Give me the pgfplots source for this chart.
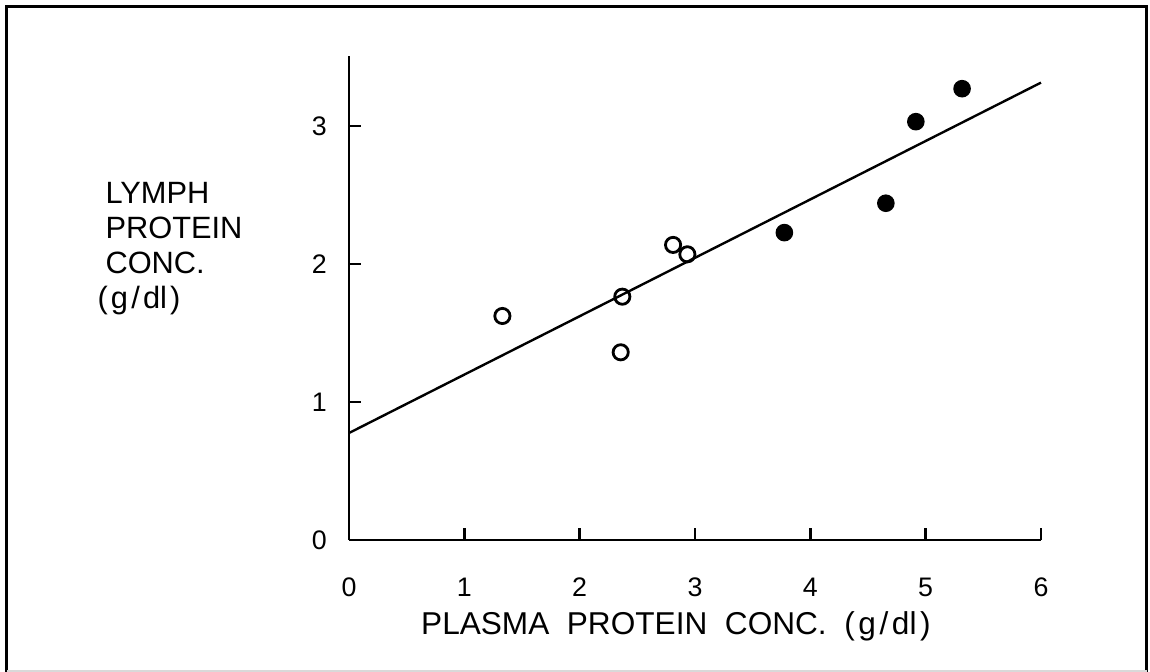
\documentclass[border=0pt]{standalone}
\usepackage{pgfplots}
\pgfplotsset{compat=1.18}
\usepackage{fontspec}
\setmainfont{Liberation Sans}

\begin{document}
\begin{tikzpicture}
  % picture size: 1 px of the reference = 0.25pt, axis origin at (0,0)
  \useasboundingbox (-87.25pt,-33pt) rectangle (200.25pt,135pt);
  \draw[line width=0.75pt] (-85.5pt,-34pt) -- (-85.5pt,133.25pt)
    -- (199.5pt,133.25pt) -- (199.5pt,-34pt);
  \draw[line width=0.5pt, black!15] (-85.5pt,-32.7pt) -- (199.5pt,-32.7pt);

  \begin{axis}[
    at={(0,0)}, anchor=south west,
    scale only axis,
    width=173pt, height=121pt,
    xmin=0, xmax=6,
    ymin=0, ymax=3.507,
    axis lines*=left,
    axis line style={-, line width=0.65pt},
    xtick={0,1,2,3,4,5,6},
    ytick={0,1,2,3},
    tick align=inside,
    major tick length=3pt,
    tick style={line width=0.65pt, black},
    /pgf/number format/assume math mode=true,
    ticklabel style={font=\fontsize{6.7}{8}\selectfont},
    xticklabel style={anchor=center, yshift=-11.75pt},
    yticklabel style={anchor=east, xshift=-2pt},
    xlabel={PLASMA\ \ PROTEIN\ \ CONC.\ \ (\kern0.9pt g\kern0.9pt/\kern0.9pt dl\kern0.9pt)},
    xlabel style={font=\fontsize{7.9}{9}\selectfont, anchor=base, inner sep=0pt,
      at={(axis description cs:0.4725,-0.196)}},
    ylabel={LYMPH\\PROTEIN\\CONC.\\\hspace*{-2pt}(\kern0.8pt g\kern0.8pt/\kern0.8pt dl\kern0.8pt)},
    ylabel style={rotate=-90, font=\fontsize{7.7}{8.75}\selectfont, align=left,
      anchor=north west, inner sep=0pt,
      at={(axis description cs:-0.353,0.74)}},
    clip=false,
  ]
    % regression line
    \addplot[black, line width=0.6pt] coordinates {(0,0.775) (6,3.314)};
    % open circles
    \addplot[only marks, mark=o, mark size=1.9pt, line width=0.7pt, black] coordinates {
      (1.33,1.623) (2.356,1.36) (2.37,1.763) (2.81,2.138) (2.934,2.07)
    };
    % filled circles
    \addplot[only marks, mark=*, mark size=2pt, black] coordinates {
      (3.775,2.227) (4.655,2.44) (4.915,3.031) (5.316,3.27)
    };
  \end{axis}
\end{tikzpicture}
\end{document}
